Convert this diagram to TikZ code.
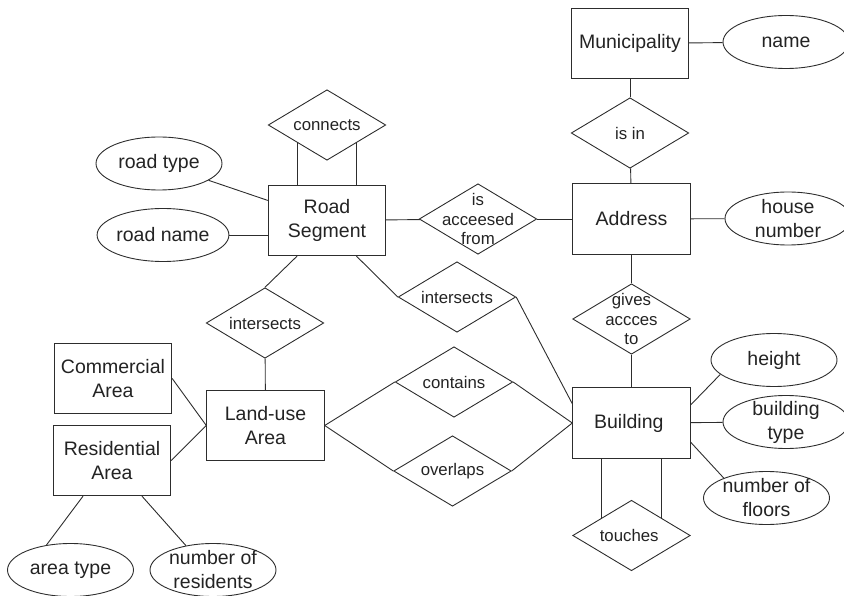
\documentclass[tikz,border=0pt]{standalone}
\usepackage{fontspec}
\setmainfont{Liberation Sans}
\usetikzlibrary{shapes.geometric}

\begin{document}
\begin{tikzpicture}[x=1pt, y=-1pt, line width=0.9pt,
    entity/.style={draw=linecolor, rectangle, minimum width=117.5pt, minimum height=70.5pt,
      inner sep=2pt, align=center, text=textcolor, font=\fontsize{19.5}{24}\selectfont},
    relation/.style={draw=linecolor, diamond, aspect=1.67, minimum width=117.5pt, minimum height=70.5pt,
      inner sep=0pt, align=center, text=textcolor, font=\fontsize{16.8}{19.5}\selectfont},
    attribute/.style={draw=linecolor, ellipse, minimum width=126pt, minimum height=53pt,
      inner sep=0pt, align=center, text=textcolor, font=\fontsize{19.5}{24}\selectfont},
    link/.style={draw=linecolor}]
      % Color definitions
      \definecolor{linecolor}{RGB}{45, 45, 45}
      \definecolor{textcolor}{RGB}{35, 35, 35}

      % Page frame (reference pixels)
      \useasboundingbox (0,0) rectangle (844,596);

      % Entities
      \foreach \name/\pos/\txt in {
          muni/{630,43.5}/Municipality,
          address/{631.5,219}/Address,
          road/{327,220.5}/{Road\\Segment},
          landuse/{265.5,425.5}/{Land-use\\Area},
          commercial/{113,378.5}/{Commercial\\Area},
          residential/{112,460.5}/{Residential\\Area},
          building/{631.5,423}/Building
      } {
          \node[entity] (\name) at (\pos) {\txt};
      }

      % Relationships
      \foreach \name/\pos/\txt in {
          isin/{630,133}/is in,
          connects/{327,125}/connects,
          isect1/{265,323}/intersects,
          isect2/{457,297}/intersects,
          contains/{454,382}/contains,
          overlaps/{452.5,471}/overlaps,
          touches/{631.5,535.5}/touches
      } {
          \node[relation] (\name) at (\pos) {\txt};
      }
      \node[relation, inner sep=-10pt] (access) at (478,219) {is\\acceesed\\from};
      \node[relation, inner sep=-10pt] (gives) at (631.5,319) {gives\\accces\\to};

      % Attributes
      \node[attribute] (mname) at (786,42) {name};
      \node[attribute, inner sep=-4pt] (house) at (788,218.5) {house\\number};
      \node[attribute] (rtype) at (159,163.5) {road type};
      \node[attribute] (rname) at (163,235) {road name};
      \node[attribute] (height) at (774,360) {height};
      \node[attribute, inner sep=-4pt] (btype) at (786,422) {building\\type};
      \node[attribute, inner sep=-4pt] (floors) at (766.5,498) {number of\\floors};
      \node[attribute] (atype) at (70.5,570) {area type};
      \node[attribute, inner sep=-4pt] (nres) at (213,570) {number of\\residents};

      % Links between nodes
      \foreach \a/\b in {
          muni/mname, muni/isin, isin/address, address/house,
          road/access, access/address, address/gives, gives/building,
          rtype/road, isect1/landuse, isect2.east/building.162,
          landuse.east/contains.west, contains.east/building.west,
          landuse.east/overlaps.west, overlaps.east/building.west,
          commercial.east/landuse.west, residential.east/landuse.west,
          building.17/height.195, building/btype, building.-18/floors.155
      } {
          \draw[link] (\a) -- (\b);
      }
      \draw[link] (rname) -- (rname -| road.west);

      % Road segment to the two intersects
      \draw[link] ([xshift=-30pt]road.south) -- (isect1.north);
      \draw[link] ([xshift=29.5pt]road.south) -- (isect2.west);

      % Residential area attributes
      \draw[link] ([xshift=-29pt]residential.south) -- (atype.134);
      \draw[link] ([xshift=30pt]residential.south) -- (nres.138);

      % Double links (recursive relationships)
      \foreach \side in {south west, south east} {
          \draw[link] (connects.\side) -- (connects.\side |- road.north);
      }
      \foreach \side in {north west, north east} {
          \draw[link] (touches.\side) -- (touches.\side |- building.south);
      }

\end{tikzpicture}
\end{document}
